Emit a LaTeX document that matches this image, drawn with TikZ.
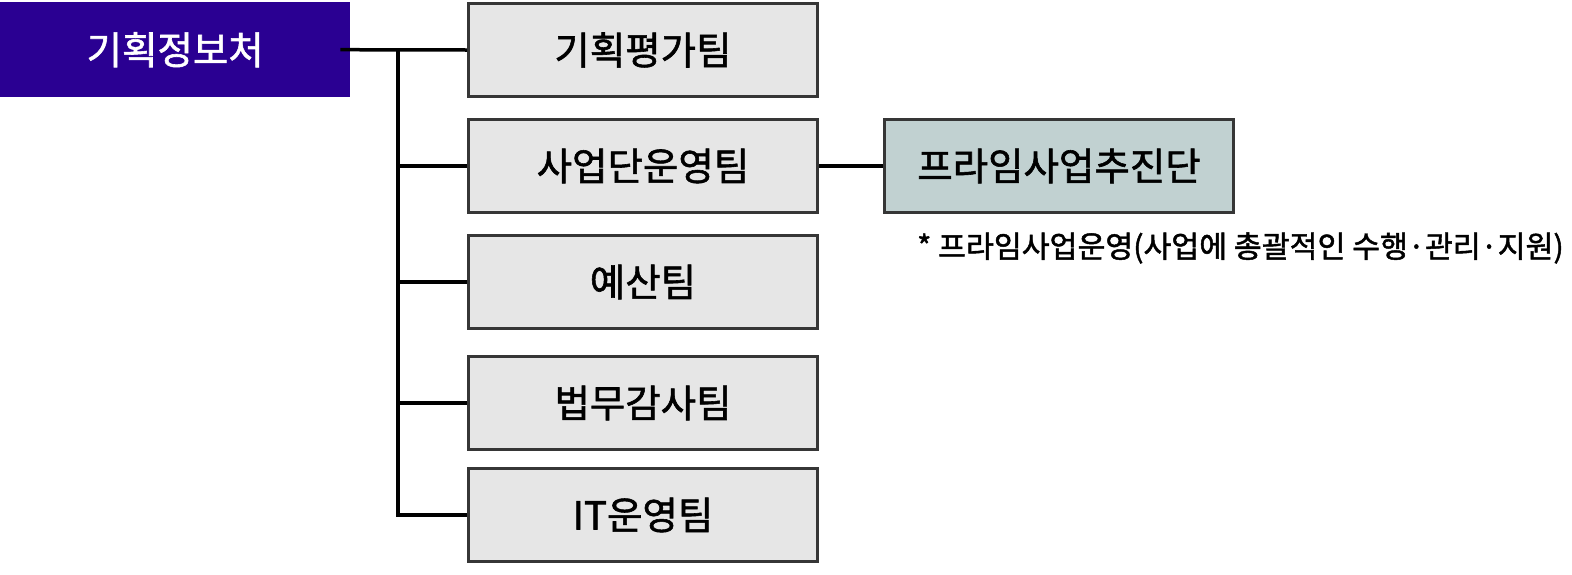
\documentclass[tikz,border=0pt]{standalone}
\usepackage{fontspec}
\setmainfont{Noto Sans CJK KR}[FakeBold=1.5]
\usetikzlibrary{positioning}
\definecolor{hqpurple}{HTML}{2A0092}
\definecolor{teamgray}{HTML}{E6E6E6}
\definecolor{edgegray}{HTML}{363636}
\definecolor{primegreen}{HTML}{C1D1D1}

\begin{document}
\begin{tikzpicture}[
  x=1pt, y=1pt,
  node distance=20pt and 64pt,
  hq/.style={fill=hqpurple, text=white, minimum width=350pt, minimum height=95pt,
             inner sep=0pt, font=\fontsize{38.5}{42}\selectfont},
  team/.style={draw=edgegray, fill=teamgray, line width=3pt, minimum width=349pt,
               minimum height=93pt, inner sep=0pt, font=\fontsize{38.5}{42}\selectfont},
  prime/.style={team, fill=primegreen},
  note/.style={inner sep=0pt, font=\fontsize{30.3}{34}\selectfont},
  conn/.style={line width=3.5pt}]
  \useasboundingbox (0,0) rectangle (1572,-574);
  \node[hq, anchor=north west] (hq) at (0,-2) {기획정보처};
  \node[team, anchor=north west] (plan) at (467,-2) {기획평가팀};
  \node[team, below=of plan] (biz) {사업단운영팀};
  \node[team, below=of biz] (budget) {예산팀};
  \node[team, below=25pt of budget] (legal) {법무감사팀};
  \node[team, below=16pt of legal] (it) {IT운영팀};
  \node[prime, right=of biz] (prime) {프라임사업추진단};
  \node[note, anchor=west] (note) at (917,-248) {* 프라임사업운영(사업에 총괄적인 수행·관리·지원)};
  % trunk and branches
  \coordinate (trunk) at (398,0);
  \draw[conn] ([xshift=-10pt]hq.east) -- (plan.west);
  \draw[conn] (trunk |- plan.west) |- (it.west);
  \foreach \t in {biz, budget, legal}
    \draw[conn] (trunk |- \t.west) -- (\t.west);
  \draw[conn] (biz) -- (prime);
\end{tikzpicture}
\end{document}
